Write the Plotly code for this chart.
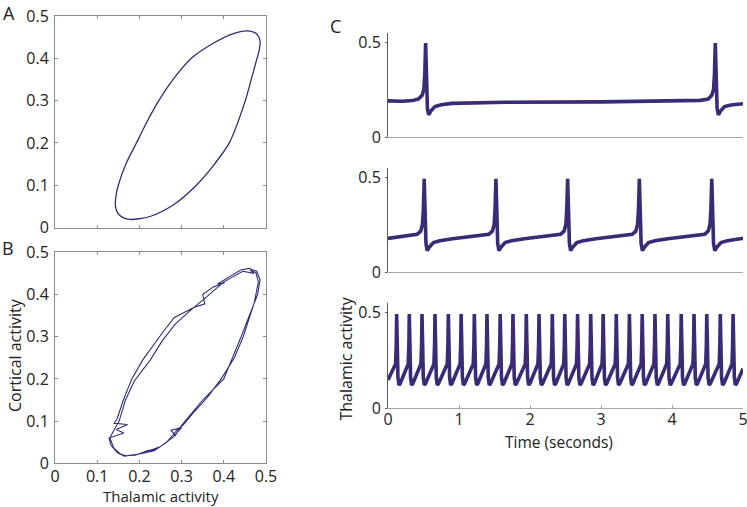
import plotly.graph_objects as go

# ---------------- data ----------------
# Panel A: smooth limit cycle (thalamic activity vs cortical activity)
a_thal = [0.177, 0.158, 0.147, 0.143, 0.145, 0.150, 0.168, 0.193, 0.218, 0.246, 0.280,
          0.323, 0.374, 0.421, 0.455, 0.476, 0.486, 0.484, 0.476, 0.465, 0.451, 0.413,
          0.378, 0.335, 0.280, 0.225, 0.177]
a_cort = [0.019, 0.025, 0.037, 0.055, 0.078, 0.100, 0.150, 0.200, 0.250, 0.300, 0.350,
          0.400, 0.435, 0.458, 0.465, 0.459, 0.440, 0.420, 0.390, 0.350, 0.300, 0.200,
          0.150, 0.100, 0.053, 0.026, 0.019]

# Panel B: noisy limit cycle, two passes with small jumps
b_thal = [0.160, 0.190, 0.220, 0.240, 0.215, 0.250, 0.280, 0.300, 0.275, 0.285, 0.300,
          0.318, 0.350, 0.380, 0.400, 0.441, 0.465, 0.480, 0.486, 0.478, 0.460, 0.440,
          0.410, 0.385, 0.402, 0.375, 0.350, 0.355, 0.330, 0.282, 0.255, 0.233, 0.208,
          0.182, 0.162, 0.147, 0.140, 0.172, 0.145, 0.163, 0.128, 0.133, 0.148, 0.165,
          0.200, 0.235, 0.265, 0.290, 0.305, 0.328, 0.360, 0.394, 0.425, 0.446, 0.472,
          0.482, 0.476, 0.462, 0.472, 0.445, 0.400, 0.360, 0.318, 0.285, 0.254, 0.226,
          0.188, 0.167, 0.152, 0.143, 0.130, 0.140, 0.155, 0.168]
b_cort = [0.018, 0.019, 0.030, 0.034, 0.027, 0.040, 0.062, 0.085, 0.078, 0.066, 0.090,
          0.112, 0.150, 0.180, 0.200, 0.300, 0.360, 0.400, 0.435, 0.455, 0.462, 0.458,
          0.440, 0.425, 0.428, 0.418, 0.400, 0.378, 0.370, 0.345, 0.310, 0.280, 0.245,
          0.200, 0.150, 0.105, 0.095, 0.092, 0.080, 0.072, 0.060, 0.042, 0.025, 0.017,
          0.022, 0.030, 0.050, 0.080, 0.092, 0.120, 0.155, 0.200, 0.250, 0.300, 0.380,
          0.430, 0.452, 0.458, 0.450, 0.455, 0.430, 0.395, 0.360, 0.330, 0.290, 0.245,
          0.195, 0.150, 0.100, 0.085, 0.060, 0.035, 0.022, 0.018]

# Panel C (top): slow rhythm, two spikes
c1_t = [0.0, 0.20, 0.35, 0.43, 0.48, 0.505, 0.518, 0.530, 0.542, 0.555, 0.573, 0.60,
        0.66, 0.75, 0.90, 1.65, 3.00, 4.20, 4.40, 4.51, 4.56, 4.585, 4.598, 4.610,
        4.622, 4.635, 4.653, 4.68, 4.74, 4.83, 5.0]
c1_v = [0.190, 0.188, 0.192, 0.200, 0.220, 0.250, 0.330, 0.495, 0.330, 0.150, 0.116,
        0.135, 0.160, 0.170, 0.177, 0.183, 0.185, 0.188, 0.193, 0.200, 0.220, 0.250,
        0.330, 0.495, 0.330, 0.150, 0.116, 0.135, 0.160, 0.168, 0.175]

# Panel C (middle): ~1 Hz rhythm
c2_spikes = [0.51, 1.52, 2.53, 3.54, 4.56]
c2_shape_dt = [-0.30, -0.10, -0.05, -0.025, -0.012, 0.0, 0.012, 0.025, 0.043, 0.07, 0.13, 0.22, 0.40]
c2_shape_v = [0.188, 0.198, 0.215, 0.250, 0.330, 0.490, 0.330, 0.150, 0.112, 0.130, 0.155, 0.165, 0.175]
c2_start = (0.0, 0.177)
c2_end = (5.0, 0.176)

# Panel C (bottom): fast rhythm
c3_spikes = [0.122, 0.30, 0.479, 0.662, 0.85, 1.03, 1.216, 1.394, 1.58, 1.76, 1.948,
             2.127, 2.314, 2.49, 2.67, 2.855, 3.03, 3.215, 3.40, 3.58, 3.76, 3.94,
             4.13, 4.31, 4.49, 4.68, 4.86]
c3_shape_dt = [-0.015, -0.006, 0.0, 0.006, 0.018, 0.032, 0.05, 0.10]
c3_shape_v = [0.23, 0.33, 0.49, 0.38, 0.16, 0.12, 0.128, 0.17]
c3_start = (0.0, 0.146)
c3_end = (5.0, 0.205)

y_ticks_ab = [0, 0.1, 0.2, 0.3, 0.4, 0.5]
y_ticktext_ab = ["0", "0.1", "0.2", "0.3", "0.4", "0.5"]
y_ticks_c = [0, 0.5]
y_ticktext_c = ["0", "0.5"]
x_ticks_c = [0, 1, 2, 3, 4, 5]


def build(spikes, dts, vs, start, end):
    t, v = [start[0]], [start[1]]
    for tp in spikes:
        for d, val in zip(dts, vs):
            tt = tp + d
            if tt > t[-1] and tt < end[0]:
                t.append(tt)
                v.append(val)
    t.append(end[0])
    v.append(end[1])
    return t, v


c2_t, c2_v = build(c2_spikes, c2_shape_dt, c2_shape_v, c2_start, c2_end)
c3_t, c3_v = build(c3_spikes, c3_shape_dt, c3_shape_v, c3_start, c3_end)

THIN = "#2f2e78"
THICK = "#3b2a76"
FONT = "Open Sans"

fig = go.Figure()
fig.add_trace(go.Scatter(x=a_thal, y=a_cort, mode="lines",
                         line=dict(color=THIN, width=1.3, shape="spline", smoothing=0.8),
                         xaxis="x", yaxis="y", showlegend=False, hoverinfo="skip"))
fig.add_trace(go.Scatter(x=b_thal, y=b_cort, mode="lines",
                         line=dict(color=THIN, width=1.1),
                         xaxis="x2", yaxis="y2", showlegend=False, hoverinfo="skip"))
for i, (t, v) in enumerate([(c1_t, c1_v), (c2_t, c2_v), (c3_t, c3_v)]):
    fig.add_trace(go.Scatter(x=t, y=v, mode="lines",
                             line=dict(color=THICK, width=3.6),
                             xaxis="x%d" % (i + 3), yaxis="y%d" % (i + 3),
                             showlegend=False, hoverinfo="skip"))

box = dict(showline=True, linecolor="#8c8c8c", linewidth=1, mirror="ticks",
           ticks="inside", ticklen=3, tickcolor="#8c8c8c", showgrid=False,
           zeroline=False, range=[0, 0.5], tickvals=y_ticks_ab, ticktext=y_ticktext_ab,
           tickfont=dict(family=FONT, size=16, color="#222"), fixedrange=True,
           automargin=False)

W, H = 747, 507
def dx(a, b):
    return [a / W, b / W]
def dy(top, bottom):
    return [1 - bottom / H, 1 - top / H]

layout = dict(
    width=W, height=H, margin=dict(l=0, r=0, t=0, b=0, pad=0), autosize=False,
    paper_bgcolor="white", plot_bgcolor="white",
    font=dict(family=FONT, color="#222"),
    xaxis=dict(box, domain=dx(55, 266), anchor="y", showticklabels=False),
    yaxis=dict(box, domain=dy(16, 227.5), anchor="x", ticklabelstandoff=2),
    xaxis2=dict(box, domain=dx(55, 266), anchor="y2", ticklabelstandoff=-2,
                ticklabeloverflow="allow"),
    yaxis2=dict(box, domain=dy(252.3, 463.3), anchor="x2", ticklabelstandoff=2),
)

c_domains = [(32.5, 137), (167.5, 272), (302.6, 408)]
for i, (top, bottom) in enumerate(c_domains):
    n = i + 3
    last = (n == 5)
    layout["xaxis%d" % n] = dict(domain=dx(388, 743), anchor="y%d" % n, range=[0, 5],
                                 showline=True, linecolor="#a8a8a8", linewidth=1,
                                 showgrid=False, zeroline=False,
                                 tickvals=x_ticks_c, ticks="inside" if last else "",
                                 ticklen=3, tickcolor="#a8a8a8",
                                 showticklabels=last, ticklabelstandoff=-3,
                                 ticklabeloverflow="allow",
                                 tickfont=dict(family=FONT, size=16, color="#222"),
                                 fixedrange=True, automargin=False)
    layout["yaxis%d" % n] = dict(domain=dy(top, bottom), anchor="x%d" % n, range=[0, 0.55],
                                 showline=True, linecolor="#5a5a5a", linewidth=1,
                                 showgrid=False, zeroline=False,
                                 tickvals=y_ticks_c, ticktext=y_ticktext_c,
                                 ticks="outside", ticklen=2, tickcolor="#5a5a5a",
                                 ticklabelstandoff=1,
                                 tickfont=dict(family=FONT, size=16, color="#222"),
                                 fixedrange=True, automargin=False)

fig.update_layout(**layout)

ann = [
    dict(text="A", x=8.5 / W, y=1 - 13 / H, size=18, angle=0),
    dict(text="B", x=7.5 / W, y=1 - 248.5 / H, size=18, angle=0),
    dict(text="C", x=335 / W, y=1 - 25.5 / H, size=18, angle=0),
    dict(text="Cortical activity", x=15 / W, y=1 - 355 / H, size=16, angle=-90),
    dict(text="Thalamic activity", x=160.5 / W, y=1 - 496 / H, size=15, angle=0),
    dict(text="Thalamic activity", x=345.5 / W, y=1 - 359 / H, size=16, angle=-90),
    dict(text="Time (seconds)", x=559 / W, y=1 - 442 / H, size=15.5, angle=0),
]
for a in ann:
    fig.add_annotation(text=a["text"], x=a["x"], y=a["y"], xref="paper", yref="paper",
                       xanchor="center", yanchor="middle", showarrow=False,
                       textangle=a["angle"], font=dict(family=FONT, size=a["size"], color="#222"))

fig.write_html("out.html", config={"displayModeBar": False, "staticPlot": True},
               post_script="document.body.style.margin='0';document.body.style.overflow='hidden';")
